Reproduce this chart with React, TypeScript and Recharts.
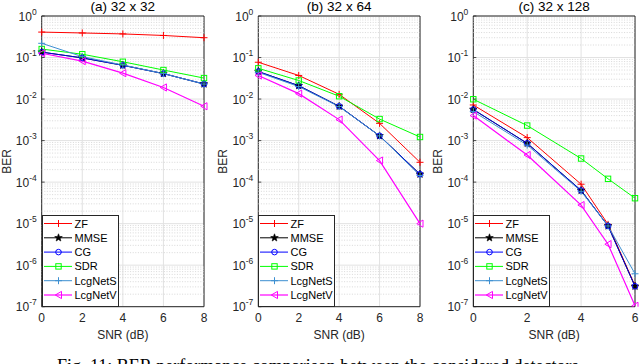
import React from 'react';
import {
  LineChart,
  Line,
  XAxis,
  YAxis,
  CartesianGrid,
  ReferenceLine,
  ReferenceArea,
  Legend,
} from 'recharts';

// SNR grids
const snrAB = [0, 2, 4, 6, 8];
const snrC = [0, 2, 4, 5, 6];

// (a) 32 x 32
const zfA = [0.41, 0.39, 0.37, 0.34, 0.3];
const mmseA = [0.135, 0.098, 0.065, 0.041, 0.023];
const cgA = [0.135, 0.098, 0.065, 0.041, 0.023];
const sdrA = [0.16, 0.12, 0.079, 0.05, 0.032];
const lcgSA = [0.22, 0.105, 0.066, 0.041, 0.023];
const lcgVA = [0.127, 0.082, 0.042, 0.019, 0.0067];

// (b) 32 x 64
const zfB = [0.077, 0.037, 0.013, 0.0026, 0.0003];
const mmseB = [0.046, 0.021, 0.0067, 0.0013, 0.000155];
const cgB = [0.046, 0.021, 0.0067, 0.0013, 0.000155];
const sdrB = [0.055, 0.028, 0.0117, 0.0033, 0.00122];
const lcgSB = [0.044, 0.02, 0.0066, 0.0013, 0.000144];
const lcgVB = [0.037, 0.0135, 0.0032, 0.00033, 0.00001];

// (c) 32 x 128
const zfC = [0.0072, 0.00118, 0.000089, 0.0000096, 3.2e-7];
const mmseC = [0.0056, 0.00086, 0.000063, 0.0000088, 3.1e-7];
const cgC = [0.0056, 0.00086, 0.000063, 0.0000088, 3.1e-7];
const sdrC = [0.0099, 0.0023, 0.00037, 0.00012, 0.000041];
const lcgSC = [0.005, 0.00078, 0.00006, 0.0000088, 6.2e-7];
const lcgVC = [0.004, 0.00045, 0.000028, 0.0000032, 1.05e-7];

const decades = [1e-7, 1e-6, 1e-5, 1e-4, 1e-3, 1e-2, 1e-1, 1];
const minorTicks = decades
  .slice(0, -1)
  .flatMap((d) => [2, 3, 4, 5, 6, 7, 8, 9].map((m) => m * d));

const series = [
  { key: 'zf', name: 'ZF', color: '#ff0000', marker: 'plus', width: 1 },
  { key: 'mmse', name: 'MMSE', color: '#000000', marker: 'star', width: 1 },
  { key: 'cg', name: 'CG', color: '#0000ff', marker: 'circle', width: 1 },
  { key: 'sdr', name: 'SDR', color: '#00ff00', marker: 'square', width: 1 },
  { key: 'lcgs', name: 'LcgNetS', color: '#3d8fd1', marker: 'plus', width: 1 },
  { key: 'lcgv', name: 'LcgNetV', color: '#ff00ff', marker: 'tri', width: 1.2 },
];

const buildRows = (snr: number[], cols: number[][]) =>
  snr.map((x, i) => ({
    snr: x,
    zf: cols[0][i],
    mmse: cols[1][i],
    cg: cols[2][i],
    sdr: cols[3][i],
    lcgs: cols[4][i],
    lcgv: cols[5][i],
  }));

const rowsA = buildRows(snrAB, [zfA, mmseA, cgA, sdrA, lcgSA, lcgVA]);
const rowsB = buildRows(snrAB, [zfB, mmseB, cgB, sdrB, lcgSB, lcgVB]);
const rowsC = buildRows(snrC, [zfC, mmseC, cgC, sdrC, lcgSC, lcgVC]);

const FONT = '"Liberation Sans", Arial, Helvetica, sans-serif';
const INK = '#262626';

function Marker({ kind, color, cx, cy }: any) {
  if (cx == null || cy == null) return null;
  if (kind === 'plus') {
    return (
      <path
        d={`M${cx - 3.5},${cy}h7M${cx},${cy - 3.5}v7`}
        stroke={color}
        strokeWidth={1}
        fill="none"
      />
    );
  }
  if (kind === 'star') {
    const pts: string[] = [];
    for (let k = 0; k < 10; k++) {
      const r = k % 2 === 0 ? 4 : 1.7;
      const a = -Math.PI / 2 + (k * Math.PI) / 5;
      pts.push(`${cx + r * Math.cos(a)},${cy + r * Math.sin(a)}`);
    }
    return <polygon points={pts.join(' ')} fill={color} stroke={color} strokeWidth={0.6} />;
  }
  if (kind === 'circle') {
    return <circle cx={cx} cy={cy} r={2.8} fill="none" stroke={color} strokeWidth={1} />;
  }
  if (kind === 'square') {
    return (
      <rect x={cx - 2.7} y={cy - 2.7} width={5.4} height={5.4} fill="none" stroke={color} strokeWidth={1} />
    );
  }
  return (
    <polygon
      points={`${cx - 3.2},${cy} ${cx + 3},${cy - 3.6} ${cx + 3},${cy + 3.6}`}
      fill="none"
      stroke={color}
      strokeWidth={1}
    />
  );
}

function PowTick({ x, y, payload }: any) {
  const e = Math.round(Math.log10(payload.value));
  return (
    <g>
      <line x1={x + 5} x2={x + 8} y1={y} y2={y} stroke={INK} strokeWidth={0.8} />
      <text x={x} y={y + 4.5} textAnchor="end" fill={INK} fontFamily={FONT} fontSize={12}>
        <tspan>10</tspan>
        <tspan dy={-6} fontSize={8.5}>
          {e}
        </tspan>
      </text>
    </g>
  );
}

function LegendBox() {
  const rowH = 14.3;
  return (
    <svg width={77} height={92} style={{ display: 'block' }}>
      <rect x={0.5} y={0.5} width={76} height={91} fill="#ffffff" stroke={INK} strokeWidth={1} />
      {series.map((s, i) => {
        const cy = 8.5 + i * rowH;
        return (
          <g key={s.key}>
            <line x1={2} x2={30} y1={cy} y2={cy} stroke={s.color} strokeWidth={s.width} />
            <Marker kind={s.marker} color={s.color} cx={16.5} cy={cy} />
            <text x={32.5} y={cy + 4} fontFamily={FONT} fontSize={11} fill="#000">
              {s.name}
            </text>
          </g>
        );
      })}
    </svg>
  );
}

type PanelProps = {
  left: number;
  width: number;
  plotLeft: number;
  plotRight: number;
  title: string;
  rows: any[];
  xMax: number;
  xTicks: number[];
};

const PLOT_TOP = 16;
const PLOT_BOTTOM = 306.7;
const CHART_H = 364;
const Y_AXIS_W = 40;
const X_AXIS_H = 40;

function Panel({ left, width, plotLeft, plotRight, title, rows, xMax, xTicks }: PanelProps) {
  const margin = {
    top: PLOT_TOP,
    bottom: CHART_H - PLOT_BOTTOM - X_AXIS_H,
    left: plotLeft - left - Y_AXIS_W,
    right: left + width - plotRight,
  };
  return (
    <div style={{ position: 'absolute', left, top: 0, width, height: CHART_H }}>
      <div
        style={{
          position: 'absolute',
          left: plotLeft - left,
          width: plotRight - plotLeft,
          top: 0,
          lineHeight: '14px',
          fontSize: 13.5,
          fontFamily: FONT,
          textAlign: 'center',
          color: '#000',
        }}
      >
        {title}
      </div>
      <LineChart width={width} height={CHART_H} data={rows} margin={margin}>
        <CartesianGrid stroke="#e2e2e2" strokeWidth={1} />
        {minorTicks.map((v) => (
          <ReferenceLine key={v} y={v} stroke="#cfcfcf" strokeWidth={0.8} strokeDasharray="1 1.6" />
        ))}
        <XAxis
          dataKey="snr"
          type="number"
          domain={[0, xMax]}
          ticks={xTicks}
          height={X_AXIS_H}
          axisLine={false}
          tickLine={false}
          tickSize={0}
          tickMargin={7}
          tick={{ fill: INK, fontSize: 12, fontFamily: FONT }}
          label={{
            content: (p: any) => {
              const vb = p.viewBox;
              return (
                <text
                  x={vb.x + vb.width / 2}
                  y={vb.y + 32.5}
                  textAnchor="middle"
                  fill={INK}
                  fontFamily={FONT}
                  fontSize={12}
                >
                  SNR (dB)
                </text>
              );
            },
          }}
        />
        <YAxis
          scale="log"
          domain={[1e-7, 1]}
          ticks={decades}
          allowDataOverflow
          width={Y_AXIS_W}
          axisLine={false}
          tickLine={false}
          tickSize={0}
          tickMargin={5}
          tick={<PowTick />}
          label={{
            content: (p: any) => {
              const vb = p.viewBox;
              const cx = vb.x + vb.width - 35;
              const cy = vb.y + vb.height / 2;
              return (
                <text
                  x={cx}
                  y={cy}
                  transform={`rotate(-90 ${cx} ${cy})`}
                  textAnchor="middle"
                  dominantBaseline="central"
                  fill={INK}
                  fontFamily={FONT}
                  fontSize={12}
                >
                  BER
                </text>
              );
            },
          }}
        />
        {series.map((s) => (
          <Line
            key={s.key}
            type="linear"
            dataKey={s.key}
            name={s.name}
            stroke={s.color}
            strokeWidth={s.width}
            strokeOpacity={s.key === 'cg' ? 0.85 : 1}
            isAnimationActive={false}
            dot={(p: any) => (
              <Marker key={`${s.key}-${p.index}`} kind={s.marker} color={s.color} cx={p.cx} cy={p.cy} />
            )}
            activeDot={false}
          />
        ))}
        <ReferenceArea
          x1={0}
          x2={xMax}
          y1={1e-7}
          y2={1}
          fill="none"
          stroke={INK}
          strokeWidth={1}
          ifOverflow="visible"
        />
        <Legend
          layout="vertical"
          align="center"
          verticalAlign="middle"
          wrapperStyle={{ left: plotLeft - left, top: 215, width: 77, height: 92 }}
          content={() => <LegendBox />}
        />
      </LineChart>
    </div>
  );
}

export default function App() {
  return (
    <div
      style={{
        position: 'absolute',
        left: 0,
        top: 0,
        width: 640,
        height: 364,
        overflow: 'hidden',
        background: '#ffffff',
      }}
    >
      <Panel left={0} width={220} plotLeft={41.7} plotRight={204} title="(a) 32 x 32" rows={rowsA} xMax={8} xTicks={[0, 2, 4, 6, 8]} />
      <Panel left={214} width={220} plotLeft={258.3} plotRight={420} title="(b) 32 x 64" rows={rowsB} xMax={8} xTicks={[0, 2, 4, 6, 8]} />
      <Panel left={428} width={212} plotLeft={473.3} plotRight={635} title="(c) 32 x 128" rows={rowsC} xMax={6} xTicks={[0, 2, 4, 6]} />
      <div
        style={{
          position: 'absolute',
          left: 0,
          width: 640,
          top: 356.5,
          fontFamily: '"Liberation Serif", "Times New Roman", serif',
          fontSize: 18,
          lineHeight: '18px',
          textAlign: 'center',
          color: '#000',
          whiteSpace: 'nowrap',
        }}
      >
        Fig. 11: BER performance comparison between the considered detectors.
      </div>
    </div>
  );
}
